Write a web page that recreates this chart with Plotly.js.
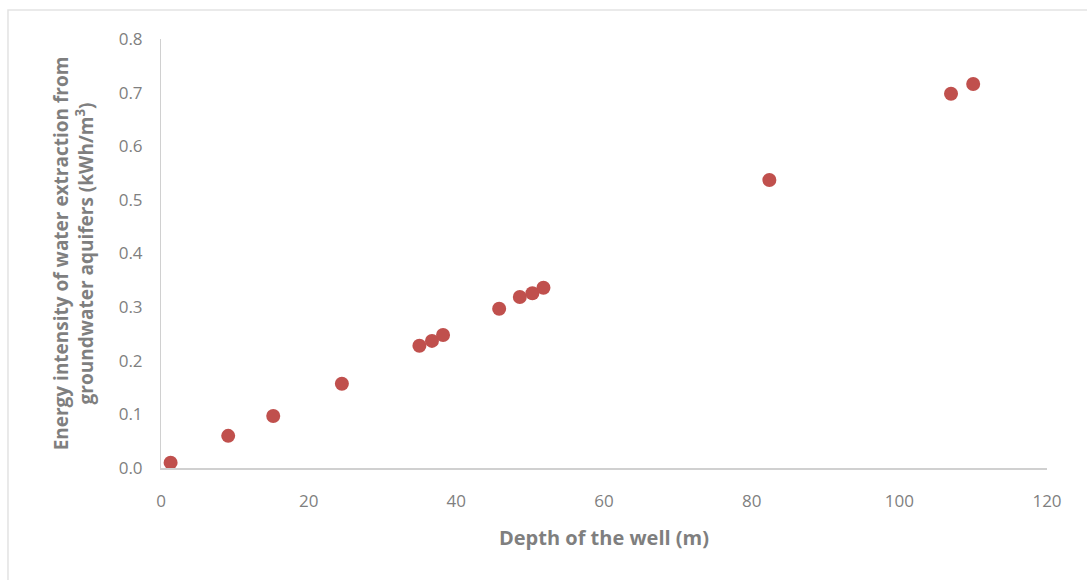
<!DOCTYPE html>
<html>
<head>
<meta charset="utf-8">
<script src="https://cdn.plot.ly/plotly-3.0.1.min.js"></script>
<style>html,body{margin:0;padding:0;background:#fff;}#chart{width:1087px;height:580px;}</style>
</head>
<body>
<div id="chart"></div>
<script>
const depth = [1.3, 9.1, 15.2, 24.5, 35.0, 36.7, 38.2, 45.8, 48.6, 50.3, 51.8, 82.4, 107.0, 110.0];
const energy = [0.01, 0.06, 0.097, 0.157, 0.228, 0.237, 0.248, 0.297, 0.319, 0.326, 0.336, 0.537, 0.698, 0.716];
const xTitle = "Depth of the well (m)";
const yTitle = "Energy intensity of water extraction from<br>groundwater aquifers (kWh/m<sup>3</sup>)";

const trace = {
  x: depth, y: energy, type: 'scatter', mode: 'markers',
  marker: {color: '#C0504D', size: 14},
  hoverinfo: 'x+y'
};
const layout = {
  width: 1087, height: 580,
  margin: {l: 161, r: 40, t: 39, b: 112},
  paper_bgcolor: '#fff', plot_bgcolor: '#fff',
  font: {family: 'Open Sans, Liberation Sans, sans-serif', color: '#7f7f7f', size: 17},
  showlegend: false,
  xaxis: {
    range: [0, 120], dtick: 20, tick0: 0, showgrid: false, zeroline: false,
    showline: true, linecolor: '#d0d0d0', linewidth: 2, ticks: '',
    ticklabelstandoff: 17,
    tickfont: {size: 17, color: '#7f7f7f'},
    title: {text: xTitle, font: {size: 20, color: '#7f7f7f', family: 'Open Sans, sans-serif', weight: 'bold'}, standoff: 20}
  },
  yaxis: {
    range: [0, 0.8], dtick: 0.1, tick0: 0, tickformat: '.1f', showgrid: false, zeroline: false,
    showline: true, linecolor: '#d0d0d0', linewidth: 1, ticks: '',
    ticklabelstandoff: 14,
    tickfont: {size: 17, color: '#7f7f7f'},
    title: {text: yTitle, font: {size: 19, color: '#7f7f7f', family: 'Open Sans, sans-serif', weight: 'bold'}, standoff: 20}
  },
  shapes: [{
    type: 'rect', xref: 'paper', yref: 'paper',
    x0: -0.1727, x1: 1.07, y0: -0.3, y1: 1.0676,
    line: {color: '#e3e3e3', width: 1.5}, fillcolor: 'rgba(0,0,0,0)'
  }]
};
Plotly.newPlot('chart', [trace], layout, {displayModeBar: false, staticPlot: true});
</script>
</body>
</html>
